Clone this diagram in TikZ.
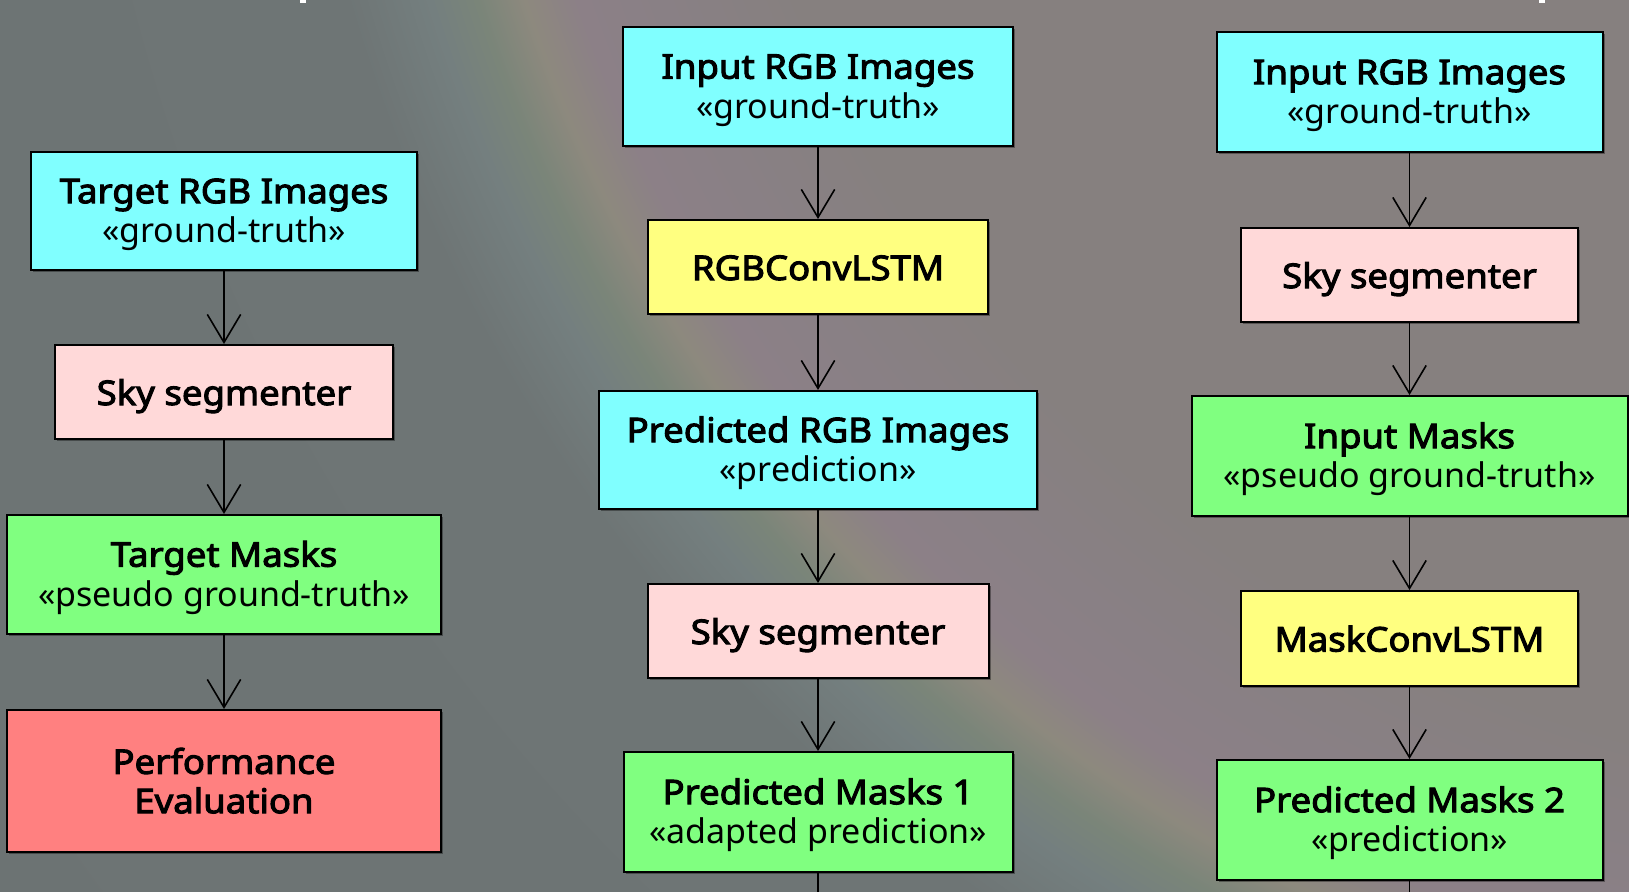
\documentclass[tikz,border=0pt]{standalone}
\usepackage{fontspec}
\setmainfont{Noto Sans}
\newfontfamily\titlefont{Noto Sans}[FakeBold=3, FakeStretch=1.075]
\usetikzlibrary{arrows.meta,shadows}
\definecolor{warmc}{HTML}{86807F}
\definecolor{warmd}{HTML}{898085}
\definecolor{pinkc}{HTML}{8C8087}
\definecolor{tanc}{HTML}{8D897E}
\definecolor{greenc}{HTML}{7A8579}
\definecolor{bluec}{HTML}{747F7F}
\definecolor{coolc}{HTML}{6E7575}
\definecolor{coold}{HTML}{6C7373}
\definecolor{cyanbox}{HTML}{80FFFF}
\definecolor{pinkbox}{HTML}{FFD9D9}
\definecolor{greenbox}{HTML}{80FF80}
\definecolor{yellowbox}{HTML}{FFFF80}
\definecolor{redbox}{HTML}{FF8080}
\pgfdeclareradialshading{ringshade}{\pgfpoint{0bp}{0bp}}{color(0bp)=(warmc); color(12.4bp)=(warmc); color(13.7bp)=(warmd); color(14.5bp)=(pinkc); color(15.0bp)=(tanc); color(15.45bp)=(greenc); color(15.9bp)=(bluec); color(16.7bp)=(coolc); color(25bp)=(coold); color(50bp)=(coold)}
\newcommand{\ttl}[1]{{\titlefont #1}}
\begin{document}
\begin{tikzpicture}[x=0.75pt,y=-0.75pt,
  box/.style 2 args={draw=black, line width=1.5pt, inner sep=0pt,
    minimum width=#1*0.75pt, minimum height=#2*0.75pt, align=center,
    font=\fontsize{25.5}{29.5}\selectfont,
    drop shadow={shadow xshift=1.5pt, shadow yshift=-1.5pt, fill=black, opacity=0.35}},
  oneline/.style={text height=20pt, text depth=0.5pt},
  twoline/.style={text height=48pt, text depth=0.75pt},
  perfline/.style={text height=49pt, text depth=0.75pt},
  conn/.style={draw=black, line width=1.2pt, -{Straight Barb[length=21pt, width=25pt]}},
  plain/.style={draw=black, line width=1.2pt},
  tick/.style={fill=white}]
\useasboundingbox (0,0) rectangle (1629,892);
\begin{scope}
  \clip (0,0) rectangle (1629,892);
  \shade[shading=ringshade] (1951,-464) circle (2500);
\end{scope}
% small white marks at the top edge
\fill[tick] (300,0) rectangle (306,3);
\fill[tick] (1539,0) rectangle (1545,3);
% left column
\node[box={386}{118}, twoline, fill=cyanbox] (tgtrgb) at (224,211) {\ttl{Target RGB Images}\\«ground-truth»};
\node[box={338}{94}, oneline, fill=pinkbox] (sky1) at (224,392) {\ttl{Sky segmenter}};
\node[box={434}{119}, twoline, fill=greenbox] (tgtmask) at (224,574.5) {\ttl{Target Masks}\\«pseudo ground-truth»};
\node[box={434}{142}, perfline, fill=redbox] (perf) at (224,781) {\ttl{Performance}\\\ttl{Evaluation}};
% middle column
\node[box={390}{119}, twoline, fill=cyanbox] (inrgb1) at (818,86.5) {\ttl{Input RGB Images}\\«ground-truth»};
\node[box={340}{94}, oneline, fill=yellowbox] (rgbconv) at (818,267) {\ttl{RGBConvLSTM}};
\node[box={438}{118}, twoline, fill=cyanbox] (predrgb) at (818,450) {\ttl{Predicted RGB Images}\\«prediction»};
\node[box={341}{94}, oneline, fill=pinkbox] (sky2) at (818,631) {\ttl{Sky segmenter}};
\node[box={389}{120}, twoline, fill=greenbox] (predm1) at (818,812) {\ttl{Predicted Masks 1}\\«adapted prediction»};
% right column
\node[box={386}{120}, twoline, fill=cyanbox] (inrgb2) at (1409.5,92) {\ttl{Input RGB Images}\\«ground-truth»};
\node[box={337}{94}, oneline, fill=pinkbox] (sky3) at (1409.5,275) {\ttl{Sky segmenter}};
\node[box={436}{120}, twoline, fill=greenbox] (inmask) at (1409.5,456) {\ttl{Input Masks}\\«pseudo ground-truth»};
\node[box={337}{95}, oneline, fill=yellowbox] (maskconv) at (1409.5,638.5) {\ttl{MaskConvLSTM}};
\node[box={386}{120}, twoline, fill=greenbox] (predm2) at (1409.5,820) {\ttl{Predicted Masks 2}\\«prediction»};
\coordinate (out1) at (818,892);
\coordinate (out2) at (1409.5,892);
% connectors
\draw[conn] (tgtrgb.south) -- (sky1.north);
\draw[conn] (sky1.south) -- (tgtmask.north);
\draw[conn] (tgtmask.south) -- (perf.north);
\draw[conn] (inrgb1.south) -- (rgbconv.north);
\draw[conn] (rgbconv.south) -- (predrgb.north);
\draw[conn] (predrgb.south) -- (sky2.north);
\draw[conn] (sky2.south) -- (predm1.north);
\draw[plain] (predm1.south) -- (out1);
\draw[conn] (inrgb2.south) -- (sky3.north);
\draw[conn] (sky3.south) -- (inmask.north);
\draw[conn] (inmask.south) -- (maskconv.north);
\draw[conn] (maskconv.south) -- (predm2.north);
\draw[plain] (predm2.south) -- (out2);
\end{tikzpicture}
\end{document}
